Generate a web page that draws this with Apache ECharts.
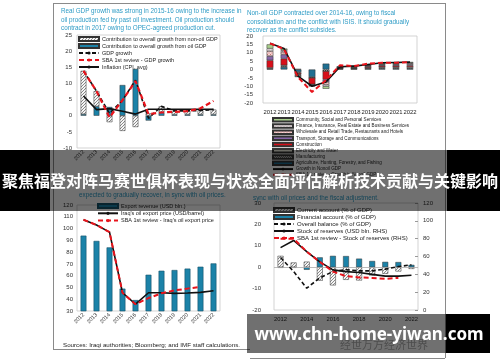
<!DOCTYPE html>
<html><head><meta charset="utf-8">
<script src="https://cdn.jsdelivr.net/npm/echarts@6/dist/echarts.min.js"></script>
<style>html,body{margin:0;padding:0;background:#fff}#c{width:500px;height:362px}</style>
</head><body><div id="c"></div>
<script>
// ---------- data ----------
const years = ['2012','2013','2014','2015','2016','2017','2018','2019','2020','2021','2022'];

// Panel 1: real GDP growth
const nonOilContrib = [13.4, 4.7, -2.0, -4.7, -3.5, 0.7, 1.8, 1.2, 1.2, 1.3, 1.5];
const oilContrib    = [0.5, 2.9, 2.7, 9.5, 14.5, -1.5, 1.1, 0.4, 0.4, 0.4, 0.4];
const gdpGrowth     = [13.9, 7.6, 0.7, 4.8, 11.0, -0.8, 2.9, 1.5, 1.5, 1.6, 1.9];
const sbaGdpGrowth  = [13.9, 7.6, -0.5, 4.8, 10.7, 0.5, 1.0, 1.2, 1.4, 2.3, 4.6];
const inflation     = [6.1, 1.9, 2.2, 1.4, 0.5, 2.0, 2.0, 2.0, 2.0, 2.0, 2.0];

// Panel 2: non-oil GDP by sector (contributions)
const community     = [2.5, 1.0, -0.5, -0.3, -1.5, 0.3, 0.3, 0.4, 0.5, 0.5, 0.5];
const finance       = [1.5, 1.0, -0.4, -0.2, -1.0, 0.1, 0.2, 0.2, 0.3, 0.4, 0.4];
const wholesale     = [3.0, 1.5, -0.5, -0.3, -1.5, 0.2, 0.3, 0.4, 0.5, 0.5, 0.6];
const transport     = [2.5, 2.5, -0.3, -0.4, -1.5, 0.2, 0.3, 0.4, 0.5, 0.6, 0.6];
const construction  = [4.5, 4.0, -0.8, -3.8, -5.0, 0.3, 0.4, 0.6, 0.8, 0.8, 0.9];
const electricity   = [0.4, 0.5, 0.3, 0.0, 0.0, 0.2, 0.3, 0.4, 0.5, 0.5, 0.6];
const manufacturing = [0.3, 0.5, -0.5, -0.5, -1.0, 0.2, 0.2, 0.3, 0.4, 0.4, 0.4];
const agriculture   = [0.3, 1.5, -1.5, -4.5, 3.5, 0.3, 0.3, 0.4, 0.5, 0.5, 0.5];
const nonoilGrowth  = [15.6, 12.6, -4.0, -10.0, -7.4, 1.6, 2.0, 3.0, 4.0, 4.2, 4.4];
const sbaNonoil     = [15.6, 12.2, -4.6, -13.4, -6.4, 2.6, 2.0, 3.5, 4.0, 4.0, 4.5];

// Panel 3: exports
const exportRevenue = [94, 89.5, 84, 49, 39.3, 60.8, 64.2, 64.8, 66, 67.6, 70.4];
const oilPrice      = [107.5, 103, 97, 45.5, 35.8, 45.5, 45.5, 45, 45.3, 45.8, 47.2];
const sbaOilPrice   = [107.5, 103, 97, 45.5, 35.8, 41, 45, 47.5, 49, 50.5, null];

// Panel 4: balance of payments
const currentAccount   = [5.3, 2.2, 2.6, -6.3, -8.5, -5.9, -6.2, -3.9, -3.1, -2.0, -0.8];
const financialAccount = [-0.3, -0.3, -1.2, 4.6, 5.3, 5.2, 4.0, 2.9, 2.5, 2.4, 1.1];
const overallBalance   = [4.5, -2.0, -9.8, -5.0, -2.0, -1.2, -1.7, -1.7, -0.9, 0.3, 1.1];
const reserves         = [70, 78, 65.4, 54, 45, 43, 42, 40, 38, 38, 39];
const sbaReserves      = [80, 80, 65.4, 54, 43, 38, 36.5, 36, 35, 36, null];

const ticks1 = [-10, 25, 5], ticks2 = [-20, 20, 5], ticks3 = [30, 120, 10], ticks4L = [-20, 30, 10], ticks4R = [0, 120, 20];

// ---------- patterns ----------
function hatch(bg, fg, n) {
  const c = document.createElement('canvas'); c.width = c.height = n;
  const g = c.getContext('2d'); g.fillStyle = bg; g.fillRect(0,0,n,n);
  g.strokeStyle = fg; g.lineWidth = 1; g.beginPath();
  g.moveTo(0,n); g.lineTo(n,0); g.moveTo(-1,1); g.lineTo(1,-1); g.moveTo(n-1,n+1); g.lineTo(n+1,n-1); g.stroke();
  return {image: c, repeat: 'repeat'};
}
function dots(bg, fg) {
  const c = document.createElement('canvas'); c.width = c.height = 3;
  const g = c.getContext('2d'); g.fillStyle = bg; g.fillRect(0,0,3,3);
  g.fillStyle = fg; g.fillRect(0,0,1,1); g.fillRect(1.5,1.5,1,1);
  return {image: c, repeat: 'repeat'};
}
const grayHatch = hatch('#f6f6f6', '#8a8a8a', 3);
const darkHatch = hatch('#fff', '#333', 2);
const TEAL = '#1b82a8';
const TITLE = '#2f9cc6';
const FF = 'Liberation Sans';

const chart = echarts.init(document.getElementById('c'));

function vAxis(grid, t, extra) {
  return Object.assign({
    type: 'value', gridIndex: grid, min: t[0], max: t[1], interval: t[2],
    splitLine: {show: false}, axisLine: {show: false}, axisTick: {show: false},
    axisLabel: {fontSize: 6, color: '#333', fontFamily: FF, margin: 5}
  }, extra || {});
}
function cAxis(grid, extra) {
  return Object.assign({
    type: 'category', gridIndex: grid, data: years,
    axisLine: {show: false, onZero: false}, axisTick: {show: false},
    axisLabel: {fontSize: 5.5, color: '#333', fontFamily: FF, interval: 0}
  }, extra || {});
}
function bar(name, data, x, y, color, stack, width, extra) {
  return Object.assign({
    name, type: 'bar', data, xAxisIndex: x, yAxisIndex: y, stack,
    barWidth: width, itemStyle: {color, borderColor: '#333', borderWidth: 0.5}
  }, extra || {});
}
function line(name, data, x, y, color, type, width) {
  return {
    name, type: 'line', data, xAxisIndex: x, yAxisIndex: y, symbol: 'none', showSymbol: false,
    lineStyle: {color, type, width, dashOffset: 0}, itemStyle: {color}, z: 5
  };
}
function txt(text, x, y, size, fill, extra) {
  return Object.assign({type: 'text', style: {text, x, y, fontSize: size, fontFamily: FF, fill, textVerticalAlign: 'middle'}}, extra || {});
}
function ln(x1, y1, x2, y2) {
  return {type: 'line', shape: {x1, y1, x2, y2}, style: {stroke: '#8a8a8a', lineWidth: 1}};
}
const R = n => ({name: n, icon: 'rect'});
const lg = (left, top, data, fs, lh, gap) => ({
  left, top, orient: 'vertical', itemWidth: 20, itemHeight: 4, itemGap: gap, selectedMode: false,
  textStyle: {fontSize: fs, lineHeight: lh, color: '#222', fontFamily: FF, padding: [0,0,0,-2]}, padding: 0, data
});

const option = {
  animation: false,
  backgroundColor: '#fff',
  grid: [
    {left: 77, top: 35, width: 143, height: 113, show: true, borderColor: '#c8c8c8', borderWidth: 0.8},
    {left: 263, top: 36, width: 154, height: 67, show: true, borderColor: '#c8c8c8', borderWidth: 0.8},
    {left: 77, top: 205, width: 143, height: 106, show: true, borderColor: '#c8c8c8', borderWidth: 0.8},
    {left: 274, top: 203, width: 144, height: 107, show: true, borderColor: '#c8c8c8', borderWidth: 0.8}
  ],
  xAxis: [
    cAxis(0, {axisLabel: {fontSize: 5.5, color: '#333', fontFamily: FF, interval: 0, rotate: 45, margin: 3}}),
    cAxis(1, {axisLabel: {fontSize: 5.9, color: '#222', fontFamily: FF, interval: 0, margin: 6}}),
    cAxis(2, {axisLabel: {fontSize: 5.5, color: '#333', fontFamily: FF, interval: 0, rotate: 45, margin: 3}}),
    cAxis(3, {axisLabel: {fontSize: 5.8, color: '#333', fontFamily: FF, interval: 1, margin: 6}})
  ],
  yAxis: [
    vAxis(0, ticks1),
    vAxis(1, ticks2, {axisLabel: {fontSize: 6, color: '#333', fontFamily: FF, margin: 10}}),
    vAxis(2, ticks3, {axisLabel: {fontSize: 6, color: '#333', fontFamily: FF, margin: 4}}),
    vAxis(3, ticks4L, {axisLabel: {fontSize: 6, color: '#333', fontFamily: FF, margin: 13}}),
    vAxis(3, ticks4R, {position: 'right', axisTick: {show: true, inside: true, length: 3, lineStyle: {color: '#999'}},
      axisLabel: {fontSize: 6, color: '#333', fontFamily: FF, margin: 5}})
  ],
  legend: [
    lg(78, 36, [R('Contribution to overall growth from non-oil GDP'), R('Contribution to overall growth from oil GDP'),
      'GDP growth', 'SBA 1st review - GDP growth', 'Inflation (CPI, avg)'], 5.5, 6, 1),
    Object.assign(lg(272, 117, [R('Community, Social and Personal Services'), R('Finance, Insurance, Real Estate and Business Services'),
      R('Wholesale and Retail Trade, Restaurants and Hotels'), R('Transport, Storage and Communications'), R('Construction'),
      R('Electricity and Water'), R('Manufacturing'), R('Agriculture, Hunting, Forestry, and Fishing'),
      'Growth in Nonoil GDP', 'SBA 1st review - Growth in Nonoil GDP'], 4.6, 5, 0.7), {itemHeight: 3.5}),
    lg(97, 203, [R('Export revenue (USD bln.)'), "Iraq's oil export price (USD/barrel)", "SBA 1st review - Iraq's oil export price"], 5.5, 6, 1.3),
    lg(273, 207, [R('Current account (% of GDP)'), R('Financial account (% of GDP)'), 'Overall balance (% of GDP)',
      'Stock of reserves (USD bln. RHS)', 'SBA 1st review - Stock of reserves (RHS)'], 6, 6, 1)
  ],
  series: [
    // panel 1
    bar('Contribution to overall growth from oil GDP', oilContrib, 0, 0, TEAL, 'p1', '44%'),
    bar('Contribution to overall growth from non-oil GDP', nonOilContrib, 0, 0, grayHatch, 'p1', '44%'),
    line('Inflation (CPI, avg)', inflation, 0, 0, '#111', 'solid', 1.6),
    line('GDP growth', gdpGrowth, 0, 0, '#111', [4, 2.5], 1.6),
    line('SBA 1st review - GDP growth', sbaGdpGrowth, 0, 0, '#e8141c', [5, 3], 2.2),
    // panel 2
    bar('Agriculture, Hunting, Forestry, and Fishing', agriculture, 1, 1, '#1f6f92', 'p2', '48%'),
    bar('Manufacturing', manufacturing, 1, 1, darkHatch, 'p2', '48%'),
    bar('Electricity and Water', electricity, 1, 1, '#eeeee0', 'p2', '48%'),
    bar('Construction', construction, 1, 1, '#d7101a', 'p2', '48%'),
    bar('Transport, Storage and Communications', transport, 1, 1, '#8565a8', 'p2', '48%'),
    bar('Wholesale and Retail Trade, Restaurants and Hotels', wholesale, 1, 1, dots('#f7d6d6', '#d07070'), 'p2', '48%'),
    bar('Finance, Insurance, Real Estate and Business Services', finance, 1, 1, dots('#ffffff', '#c98a9a'), 'p2', '48%'),
    bar('Community, Social and Personal Services', community, 1, 1, '#a9cf8c', 'p2', '48%'),
    line('Growth in Nonoil GDP', nonoilGrowth, 1, 1, '#111', 'solid', 1.6),
    line('SBA 1st review - Growth in Nonoil GDP', sbaNonoil, 1, 1, '#e8141c', [5, 3], 2),
    // panel 3
    bar('Export revenue (USD bln.)', exportRevenue, 2, 2, TEAL, null, '45%', {itemStyle: {color: TEAL, borderColor: '#16536a', borderWidth: 0.6}}),
    line("Iraq's oil export price (USD/barrel)", oilPrice, 2, 2, '#111', 'solid', 1.6),
    line("SBA 1st review - Iraq's oil export price", sbaOilPrice, 2, 2, '#e8141c', [5, 3], 2),
    // panel 4
    bar('Current account (% of GDP)', currentAccount, 3, 3, grayHatch, 'p4', '45%', {
      markLine: {silent: true, symbol: 'none', label: {show: false}, lineStyle: {color: '#aaa', type: 'solid', width: 0.8}, data: [{yAxis: 0}]}
    }),
    bar('Financial account (% of GDP)', financialAccount, 3, 3, TEAL, 'p4', '45%'),
    line('Overall balance (% of GDP)', overallBalance, 3, 3, '#111', [4, 2.5], 1.6),
    line('Stock of reserves (USD bln. RHS)', reserves, 3, 4, '#111', 'solid', 1.6),
    line('SBA 1st review - Stock of reserves (RHS)', sbaReserves, 3, 4, '#e8141c', [5, 3], 2)
  ],
  graphic: [
    // frames
    ln(53, 3.5, 445, 3.5), ln(53.5, 3, 53.5, 349), ln(445.5, 3, 445.5, 358),
    ln(53, 349.5, 250, 349.5), ln(250, 358.5, 445, 358.5),
    // titles
    txt('Real GDP growth was strong in 2015-16 owing to the increase in', 61, 11.5, 6.3, TITLE),
    txt('oil production fed by past oil investment. Oil production should', 61, 20, 6.3, TITLE),
    txt('contract in 2017 owing to OPEC-agreed production cut.', 61, 28.5, 6.3, TITLE),
    txt('Non-oil GDP contracted over 2014-16, owing to fiscal', 247, 13.7, 6.3, TITLE),
    txt('consolidation and the conflict with ISIS. It should gradually', 247, 22.2, 6.3, TITLE),
    txt('recover as the conflict subsides.', 247, 30.5, 6.3, TITLE),
    txt('expected to gradually recover, in sync with oil prices.', 79, 195, 6.3, TITLE),
    txt('sync with oil prices and the fiscal adjustment.', 253, 198, 6.3, TITLE),
    txt('Sources: Iraqi authorities; Bloomberg; and IMF staff calculations.', 63, 345, 6.2, '#222'),
    {type: 'text', style: {text: '经世万方经济世界', x: 340, y: 345, fontSize: 11, fontFamily: 'Noto Sans CJK SC', fill: '#b0b0b0', textVerticalAlign: 'middle'}},
    // title banner
    {type: 'rect', z: 100, shape: {x: 50, y: 150, width: 397, height: 61}, style: {fill: 'rgba(0,0,0,0.56)'}},
    {type: 'rect', z: 100, shape: {x: 0, y: 150, width: 50, height: 61}, style: {fill: '#000'}},
    {type: 'rect', z: 100, shape: {x: 447, y: 150, width: 53, height: 61}, style: {fill: '#000'}},
    {type: 'text', z: 101, style: {text: '聚焦福登对阵马赛世俱杯表现与状态全面评估解析技术贡献与关键影响', x: 250, y: 181,
      fontSize: 16, fontWeight: 'bold', fontFamily: 'Noto Sans CJK SC', fill: '#fff', textAlign: 'center', textVerticalAlign: 'middle'}},
    // watermark
    {type: 'rect', z: 100, shape: {x: 247, y: 314, width: 199, height: 39}, style: {fill: 'rgba(0,0,0,0.56)'}},
    {type: 'rect', z: 100, shape: {x: 446, y: 314, width: 44, height: 39}, style: {fill: '#000'}},
    {type: 'text', z: 101, style: {text: 'www.chn-home-yiwan.com', x: 369, y: 335, fontSize: 17, fontWeight: 'bold',
      fontFamily: 'Noto Sans', fill: '#fff', textAlign: 'center', textVerticalAlign: 'middle'}}
  ]
};
chart.setOption(option);
</script></body></html>
